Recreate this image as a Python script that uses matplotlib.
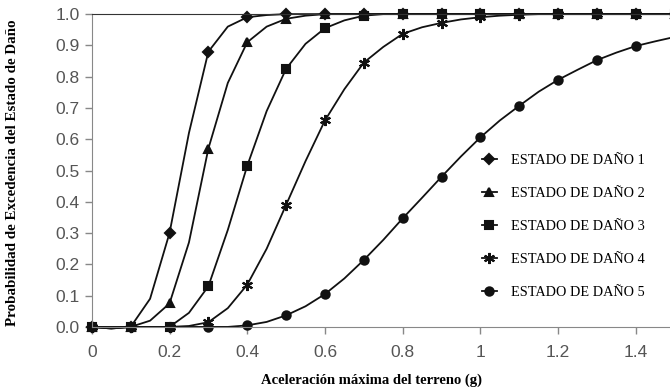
import matplotlib
matplotlib.use('Agg')
import matplotlib.pyplot as plt
from matplotlib.legend_handler import HandlerLine2D
import numpy as np

# aceleracion (g), cada 0.05; los marcadores van cada 0.1
pga = [0, 0.05, 0.1, 0.15, 0.2, 0.25, 0.3, 0.35, 0.4, 0.45, 0.5, 0.55, 0.6, 0.65, 0.7, 0.75,
       0.8, 0.85, 0.9, 0.95, 1.0, 1.05, 1.1, 1.15, 1.2, 1.25, 1.3, 1.35, 1.4, 1.45, 1.5]

ds1 = [0, -0.005, 0, 0.09, 0.30, 0.62, 0.88, 0.96, 0.99, 0.997, 1, 1, 1, 1, 1, 1,
       1, 1, 1, 1, 1, 1, 1, 1, 1, 1, 1, 1, 1, 1, 1]
ds2 = [0, -0.005, 0, 0.02, 0.075, 0.27, 0.57, 0.78, 0.91, 0.96, 0.985, 0.995, 1, 1, 1, 1,
       1, 1, 1, 1, 1, 1, 1, 1, 1, 1, 1, 1, 1, 1, 1]
ds3 = [0, -0.003, 0, 0, 0, 0.045, 0.13, 0.31, 0.515, 0.69, 0.825, 0.905, 0.955, 0.98, 0.995, 1,
       1, 1, 1, 1, 1, 1, 1, 1, 1, 1, 1, 1, 1, 1, 1]
ds4 = [0, -0.003, 0, 0, 0, 0.003, 0.015, 0.06, 0.135, 0.25, 0.39, 0.53, 0.66, 0.76, 0.845, 0.895,
       0.937, 0.958, 0.972, 0.983, 0.99, 0.995, 0.998, 1, 1, 1, 1, 1, 1, 1, 1]
ds5 = [0, 0, 0, 0, 0, 0, 0, 0, 0.005, 0.016, 0.037, 0.066, 0.105, 0.155, 0.214, 0.278,
       0.347, 0.413, 0.48, 0.545, 0.606, 0.66, 0.707, 0.752, 0.79, 0.822, 0.853, 0.877, 0.898, 0.913, 0.927]

labels = ['ESTADO DE DAÑO 1', 'ESTADO DE DAÑO 2', 'ESTADO DE DAÑO 3',
          'ESTADO DE DAÑO 4', 'ESTADO DE DAÑO 5']
markers = ['D', '^', 's', (6, 2, 0), 'o']
msizes = [5, 6, 6, 8, 6]

xticks = [0, 0.2, 0.4, 0.6, 0.8, 1.0, 1.2, 1.4]
xticklabels = ['0', '0.2', '0.4', '0.6', '0.8', '1', '1.2', '1.4']
yticks = [0, 0.1, 0.2, 0.3, 0.4, 0.5, 0.6, 0.7, 0.8, 0.9, 1.0]


class MarkerAtEnd(HandlerLine2D):
    # marcador al final de la linea, como en Excel
    def get_xdata(self, legend, xdescent, ydescent, width, height, fontsize):
        xdata = np.array([-xdescent, -xdescent + width])
        return xdata, np.array([-xdescent + width - 2])


fig = plt.figure(figsize=(6.7, 3.92), dpi=100)
ax = fig.add_axes([0.137, 0.166, 0.87, 0.798])

for ys, lab, m, ms in zip([ds1, ds2, ds3, ds4, ds5], labels, markers, msizes):
    ax.plot(pga, ys, color='#111111', lw=1.3, marker=m, ms=ms, markevery=2,
            mew=1.5, label=lab, clip_on=False)

ax.set_xlim(0, 1.5)
ax.set_ylim(0, 1.0)
ax.set_xticks(xticks)
ax.set_xticklabels(xticklabels)
ax.set_yticks(yticks)
ax.set_yticklabels(['%.1f' % v for v in yticks])
ax.tick_params(colors='#888888', labelcolor='#555555', labelsize=12.5, length=5, width=1)
ax.tick_params(axis='x', pad=8)
for lab in ax.get_xticklabels() + ax.get_yticklabels():
    lab.set_family('Liberation Sans')
ax.spines['right'].set_visible(False)
for s in ['left', 'bottom']:
    ax.spines[s].set_color('#888888')
ax.spines['top'].set_color('#333333')

fig.text(0.018, 0.56, 'Probabilidad de Excedencia del Estado de Daño', rotation=90,
         ha='center', va='center', family='Liberation Serif', fontweight='bold', fontsize=10.8)
fig.text(0.555, 0.031, 'Aceleración máxima del terreno (g)', ha='center', va='center',
         family='Liberation Serif', fontweight='bold', fontsize=10.5)

leg = ax.legend(loc='upper left', bbox_to_anchor=(0.700, 0.641), bbox_transform=fig.transFigure,
                frameon=False, handlelength=1.05, handletextpad=1.0, labelspacing=1.4,
                prop={'family': 'Liberation Serif', 'size': 10.3},
                handler_map={plt.Line2D: MarkerAtEnd(numpoints=1)})

fig.savefig('out.png', dpi=100)
